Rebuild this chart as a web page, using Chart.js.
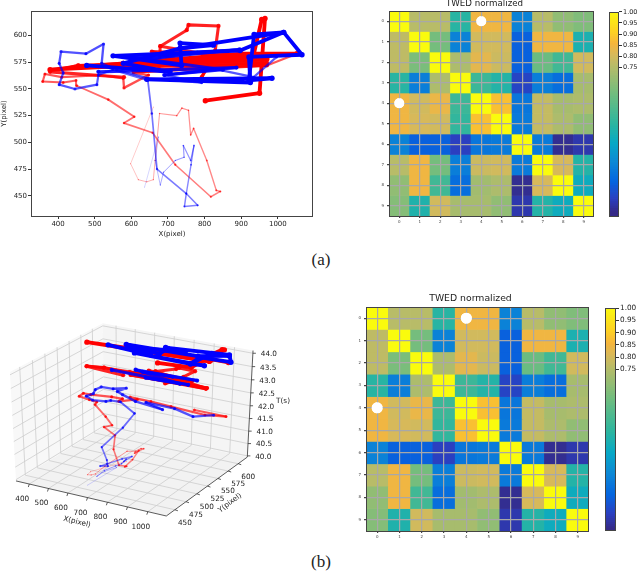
<!DOCTYPE html>
<html>
<head>
<meta charset="utf-8">
<title>TWED trajectories</title>
<script src="https://cdn.jsdelivr.net/npm/chart.js@4"></script>
<style>
	html, body { margin: 0; padding: 0; background: #fff; }
	body { position: relative; width: 640px; height: 571px; overflow: hidden; }
	canvas { position: absolute; filter: blur(0.35px); }
	.cap { position: absolute; font: 17px "Liberation Serif", serif; color: #222; transform: translate(-50%, -50%); }
</style>
</head>
<body>
<canvas id="traj2d"></canvas>
<canvas id="heatA"></canvas>
<canvas id="barA"></canvas>
<div class="cap" style="left:321px;top:260px">(a)</div>
<canvas id="traj3d"></canvas>
<canvas id="heatB"></canvas>
<canvas id="barB"></canvas>
<div class="cap" style="left:321px;top:562px">(b)</div>
<script>
// pen strokes, null = pen lifted
const redX = [660,598,619,642,660,665,677,724,738,756,762,770,806,832,843,817,720,658,580,608,537,451,449,414,358,364,410,515,578,580,647,606,706,806,970,1052,900,null,
	378,455,697,970,679,675,679,751,756,838,829,792,806,656,880,592,970,606,970,455,378,580,null,
	578,378,970,600,970,720,970,578,900,1052,934,956,965,950,802];
const redY = [533,480,465,463,465,483,527,525,532,530,507,513,483,455,454,449,479,509,518,524,540,553,558,556,557,564,561,563,560,551,563,565,568,569,572,583,580,null,
	567,572,576,573,590,568,590,605,610,609,586,561,569,585,582,570,575,566,572,572,566,561,null,
	574,568,578,572,580,575,582,574,583,583,582,615,616,546,539];
const redT = [40.1,40.2,40.3,40.35,40.4,40.5,40.6,40.7,40.75,40.8,40.9,40.95,41,41.1,41.15,41.2,41.3,41.4,41.5,41.55,41.6,41.8,41.85,41.9,41.95,42,42.05,42.1,42.15,42.15,42.2,42.2,42.15,42.1,42,41.95,42,null,
	43.05,43.05,43.05,43,43.05,43.05,43.05,43.1,43.1,43.1,43.1,43.05,43.05,43.1,43.05,43.1,43,43.05,43,43.05,43.05,43.05,null,
	43.95,43.95,43.96,43.96,43.97,43.97,43.98,43.98,43.99,43.99,44,44.02,44.02,44.03,44.05];

const blueX = [636,674,665,679,688,720,744,742,762,771,763,750,745,781,750,670,656,645,549,510,506,446,403,414,403,408,476,524,519,560,645,792,692,824,934,997,null,
	510,887,690,850,600,895,640,780,null,
	478,706,578,733,824,733,737,550,897,1016,935,921,984,642,925,921,1066,1016,733];
const blueY = [458,505,483,460,472,483,486,497,483,497,479,452,440,441,452,475,527,558,568,563,554,550,554,565,574,585,583,592,574,568,560,556,563,569,561,580,null,
	566,570,563,568,580,587,578,584,null,
	572,566,574,588,591,593,572,581,586,603,601,558,560,559,556,580,582,603,588];
const blueT = [40,40.2,40.3,40.4,40.5,40.6,40.7,40.75,40.85,40.9,41,41.1,41.15,41.2,41.25,41.35,41.5,41.7,41.9,41.95,42,42,42.05,42.05,42.1,42.1,42.15,42.15,42.2,42.2,42.15,42.1,42.15,42.05,42,41.95,null,
	43.1,43.05,43.1,43.05,43.1,43.05,43.1,43.05,null,
	43.95,43.95,43.96,43.96,43.97,43.97,43.97,43.98,43.98,43.99,43.99,44,44,44,44.02,44.02,44.03,44.03,44.05];

const xTicks = [400,500,600,700,800,900,1000];
const yTicks = [450,475,500,525,550,575,600];
const tTicks = [40,40.5,41,41.5,42,42.5,43,43.5,44];

const cellLabels = ['0','1','2','3','4','5','6','7','8','9'];
const row0 = [1,.75,.75,.48,.84,.84,.30,.75,.68,.65];
const row1 = [.76,1,.63,.30,.79,.79,.22,.84,.84,.45];
const row2 = [.76,.64,1,.73,.82,.78,.22,.61,.53,.79];
const row3 = [.48,.29,.73,1,.52,.47,.16,.29,.25,.72];
const row4 = [.84,.79,.83,.52,1,.87,.27,.77,.72,.73];
const row5 = [.84,.80,.79,.50,.87,1,.28,.77,.73,.68];
const row6 = [.30,.22,.22,.15,.27,.28,1,.28,.10,.13];
const row7 = [.75,.84,.63,.29,.78,.79,.28,1,.80,.47];
const row8 = [.68,.84,.53,.25,.71,.73,.10,.80,1,.42];
const row9 = [.66,.46,.79,.72,.72,.68,.13,.47,.42,1];
const twedRows = [row0,row1,row2,row3,row4,row5,row6,row7,row8,row9];
const whiteCols = ['4','0'];
const whiteRows = [0.5,4.5];
const cbarTicks = [0.75,0.8,0.85,0.9,0.95,1];

// colour table sampled from the colorbar
const cmapValues = [.09,.15,.228,.32,.40,.486,.62,.75,.80,.85,.90,1];
const cmapColors = ['#352a87','#2b3fc0','#0565e0','#0d8ad5','#07a8c6','#2bb5a0','#6fbd7f','#b8bc68','#d7b95a','#f6b53c','#fdd024','#fafb0d'];

const FONT = '"DejaVu Sans", sans-serif';

function hex(c) {
	return [1,3,5].map(i => parseInt(c.slice(i, i + 2), 16));
}
function cmap(v) {
	let i = 0;
	while (i < cmapValues.length - 2 && v > cmapValues[i + 1]) i++;
	const f = Math.max(0, Math.min(1, (v - cmapValues[i]) / (cmapValues[i + 1] - cmapValues[i])));
	const a = hex(cmapColors[i]), b = hex(cmapColors[i + 1]);
	return `rgb(${a.map((c, k) => Math.round(c + (b[k] - c) * f)).join(',')})`;
}

function place(id, left, top, w, h) {
	const c = document.getElementById(id);
	c.width = w;
	c.height = h;
	c.style.left = left + 'px';
	c.style.top = top + 'px';
	c.style.width = w + 'px';
	c.style.height = h + 'px';
	return c;
}

const framePlugin = {
	id: 'frame',
	afterDraw(chart) {
		const a = chart.chartArea, ctx = chart.ctx;
		ctx.save();
		ctx.strokeStyle = '#444';
		ctx.lineWidth = 1;
		ctx.strokeRect(Math.round(a.left) + 0.5, Math.round(a.top) + 0.5, Math.round(a.width) - 1, Math.round(a.height));
		ctx.restore();
	},
};

// line gets heavier and more solid as time goes on
function strokeWidth(t) { return 0.6 + (t - 40) * 0.8; }
function strokeAlpha(t) { return Math.min(1, 0.28 + (t - 40) * 0.19); }
function pathDataset(points, times, rgb, order) {
	const tAt = i => times[i] ?? 44;
	return {
		data: points,
		order: order,
		showLine: true,
		spanGaps: false,
		borderColor: `rgb(${rgb})`,
		backgroundColor: `rgb(${rgb})`,
		pointBorderWidth: 0,
		pointRadius: c => strokeWidth(tAt(c.dataIndex)) * 0.7,
		pointBackgroundColor: c => `rgba(${rgb},${strokeAlpha(tAt(c.dataIndex))})`,
		segment: {
			borderWidth: c => strokeWidth(tAt(c.p0DataIndex)),
			borderColor: c => `rgba(${rgb},${strokeAlpha(tAt(c.p0DataIndex))})`,
		},
		borderJoinStyle: 'round',
		borderCapStyle: 'round',
	};
}

function fixedAxis(ticks) {
	return {
		afterBuildTicks: s => { s.ticks = ticks.map(v => ({ value: v })); },
	};
}

// --- panel (a), plain X/Y view
new Chart(place('traj2d', 0, 0, 330, 245), {
	type: 'scatter',
	data: {
		datasets: [
			pathDataset(blueX.map((x, i) => ({ x: x, y: blueY[i] })), blueT, '0,0,255', 0),
			pathDataset(redX.map((x, i) => ({ x: x, y: redY[i] })), redT, '255,0,0', 1),
		],
	},
	options: {
		responsive: false,
		animation: false,
		events: [],
		devicePixelRatio: 1,
		layout: { autoPadding: false, padding: { top: 11, right: 17 } },
		plugins: { legend: { display: false }, tooltip: { enabled: false } },
		scales: {
			x: {
				min: 326, max: 1096,
				afterFit: s => { s.height = 29; },
				...fixedAxis(xTicks),
				ticks: { font: { family: FONT, size: 7 }, color: '#222', padding: 1, maxRotation: 0, autoSkip: false, callback: v => String(v) },
				grid: { drawOnChartArea: false, tickLength: 3, color: '#333' },
				border: { display: false },
				title: { display: true, text: 'X(pixel)', font: { family: FONT, size: 7 }, color: '#222', padding: { top: 0, bottom: 7 } },
			},
			y: {
				min: 431, max: 623,
				afterFit: s => { s.width = 31; },
				...fixedAxis(yTicks),
				ticks: { font: { family: FONT, size: 7 }, color: '#222', padding: 1, autoSkip: false, callback: v => String(v) },
				grid: { drawOnChartArea: false, tickLength: 3, color: '#333' },
				border: { display: false },
				title: { display: true, text: 'Y(pixel)', font: { family: FONT, size: 7 }, color: '#222', padding: 0 },
			},
		},
	},
	plugins: [framePlugin],
});

// --- heat maps
function heatMap(id, box, titleSize, titlePad, dotRadius) {
	const datasets = twedRows.map((row, r) => ({
		data: row.map(() => [r, r + 1]),
		backgroundColor: row.map(cmap),
		grouped: false,
		borderWidth: 0,
		barPercentage: 1,
		categoryPercentage: 1,
	}));
	datasets.push({
		type: 'scatter',
		order: -1,
		data: whiteCols.map((c, i) => ({ x: c, y: whiteRows[i] })),
		pointRadius: dotRadius,
		pointBackgroundColor: '#fff',
		pointBorderWidth: 0,
	});
	const dotsOnTop = {
		id: 'dotsOnTop',
		afterDraw(chart) {
			chart.getDatasetMeta(twedRows.length).controller.draw();
		},
	};
	const ml = box.ml, mb = box.mb;
	new Chart(place(id, box.left - ml, box.top - box.mt, box.w + ml + 2, box.h + box.mt + mb), {
		type: 'bar',
		data: { labels: cellLabels, datasets: datasets },
		options: {
			responsive: false,
			animation: false,
			events: [],
			devicePixelRatio: 1,
			layout: { autoPadding: false, padding: { right: 2 } },
			plugins: {
				legend: { display: false },
				tooltip: { enabled: false },
				title: {
					display: true,
					text: 'TWED normalized',
					color: '#222',
					font: { family: FONT, size: titleSize, weight: 'normal' },
					padding: { top: 0, bottom: titlePad },
				},
			},
			scales: {
				x: {
					offset: true,
					afterFit: s => { s.height = mb; },
					ticks: { font: { family: FONT, size: 4 }, color: '#444', padding: 2, maxRotation: 0, autoSkip: false },
					grid: { offset: false, z: 1, color: '#a8a8a8', lineWidth: 1.2, tickLength: 2, tickColor: '#444' },
					border: { display: false },
				},
				y: {
					min: 0, max: 10, reverse: true,
					afterFit: s => { s.width = ml; },
					afterBuildTicks: s => { s.ticks = cellLabels.map((c, i) => ({ value: i + 0.5 })); },
					ticks: { font: { family: FONT, size: 4 }, color: '#444', padding: 3, autoSkip: false, callback: v => cellLabels[Math.floor(v)] },
					grid: { z: 1, color: '#a8a8a8', lineWidth: 1.2, tickLength: 2, tickColor: '#444' },
					border: { display: false },
				},
			},
		},
		plugins: [dotsOnTop, framePlugin],
	});
}

function colorBar(id, box, fontSize, vMin) {
	const step = 0.008;
	const levels = [];
	for (let v = vMin; v < 1; v += step) levels.push(v);
	new Chart(place(id, box.left, box.top - 4, box.w + 28, box.h + 9), {
		type: 'bar',
		data: {
			labels: [''],
			datasets: levels.map(v => ({
				data: [[v, Math.min(1, v + step + 0.002)]],
				backgroundColor: cmap(v),
				grouped: false,
				borderWidth: 0,
				barPercentage: 1,
				categoryPercentage: 1,
			})),
		},
		options: {
			responsive: false,
			animation: false,
			events: [],
			devicePixelRatio: 1,
			layout: { autoPadding: false, padding: { top: 4, bottom: 5 } },
			plugins: { legend: { display: false }, tooltip: { enabled: false } },
			scales: {
				x: { display: false },
				y: {
					position: 'right',
					min: vMin, max: 1,
					afterFit: s => { s.width = 28; },
					...fixedAxis(cbarTicks),
					ticks: { font: { family: FONT, size: fontSize }, color: '#222', padding: 1, autoSkip: false, callback: v => v.toFixed(2) },
					grid: { drawOnChartArea: false, tickLength: 3, color: '#333' },
					border: { display: false },
				},
			},
		},
		plugins: [framePlugin],
	});
}

heatMap('heatA', { left: 389, top: 11, w: 205, h: 205, ml: 14, mt: 12, mb: 14 }, 8.7, 1.56, 5);
colorBar('barA', { left: 609, top: 11, w: 10, h: 205 }, 6.5, 0.08);
heatMap('heatB', { left: 366, top: 307, w: 223, h: 224, ml: 14, mt: 14, mb: 14 }, 9.3, 2.86, 5.5);
colorBar('barB', { left: 605, top: 307, w: 11, h: 224 }, 7.3, 0.089);

// --- panel (b), the same strokes with time as height
const X_LIM = [330, 1090], Y_LIM = [431, 623], T_LIM = [39.95, 44.1];
function project(x, y, t) {
	if (x === null) return { x: null, y: null };
	const a = (x - X_LIM[0]) / (X_LIM[1] - X_LIM[0]) - 0.5;
	const b = (y - Y_LIM[0]) / (Y_LIM[1] - Y_LIM[0]) - 0.5;
	const c = (t - T_LIM[0]) / (T_LIM[1] - T_LIM[0]) - 0.5;
	// camera at elevation 30, azimuth -60, distance 10
	const f = 10 / (10 - (0.433 * a - 0.75 * b + 0.5 * c));
	return {
		x: f * (0.866 * a + 0.5 * b),
		y: f * (-0.25 * a + 0.433 * b + 0.866 * c),
	};
}

const boxPlugin = {
	id: 'box3d',
	beforeDatasetsDraw(chart) {
		const ctx = chart.ctx, sx = chart.scales.x, sy = chart.scales.y;
		const pt = (x, y, t) => {
			const p = project(x, y, t);
			return [sx.getPixelForValue(p.x), sy.getPixelForValue(p.y)];
		};
		const [x0, x1] = X_LIM, [y0, y1] = Y_LIM, [t0, t1] = T_LIM;
		const poly = (pts, fill) => {
			ctx.beginPath();
			pts.forEach((p, i) => (i ? ctx.lineTo(p[0], p[1]) : ctx.moveTo(p[0], p[1])));
			ctx.closePath();
			ctx.fillStyle = fill;
			ctx.fill();
		};
		const seg = (a, b, color, w) => {
			ctx.beginPath();
			ctx.moveTo(a[0], a[1]);
			ctx.lineTo(b[0], b[1]);
			ctx.strokeStyle = color;
			ctx.lineWidth = w;
			ctx.stroke();
		};
		poly([pt(x0,y0,t0), pt(x0,y1,t0), pt(x0,y1,t1), pt(x0,y0,t1)], '#f8f8f8');
		poly([pt(x0,y1,t0), pt(x1,y1,t0), pt(x1,y1,t1), pt(x0,y1,t1)], '#f5f5f5');
		poly([pt(x0,y0,t0), pt(x1,y0,t0), pt(x1,y1,t0), pt(x0,y1,t0)], '#f2f2f2');

		const gridColor = '#cdcdcd';
		xTicks.forEach(v => {
			seg(pt(v,y0,t0), pt(v,y1,t0), gridColor, 0.8);
			seg(pt(v,y1,t0), pt(v,y1,t1), gridColor, 0.8);
		});
		yTicks.forEach(v => {
			seg(pt(x1,v,t0), pt(x0,v,t0), gridColor, 0.8);
			seg(pt(x0,v,t0), pt(x0,v,t1), gridColor, 0.8);
		});
		tTicks.forEach(v => {
			seg(pt(x0,y0,v), pt(x0,y1,v), gridColor, 0.8);
			seg(pt(x0,y1,v), pt(x1,y1,v), gridColor, 0.8);
		});

		seg(pt(x0,y0,t0), pt(x1,y0,t0), '#333', 0.8);
		seg(pt(x1,y0,t0), pt(x1,y1,t0), '#333', 0.8);
		seg(pt(x1,y1,t0), pt(x1,y1,t1), '#333', 0.8);

		ctx.font = `7.3px ${FONT}`;
		ctx.fillStyle = '#222';
		ctx.textAlign = 'center';
		ctx.textBaseline = 'middle';
		xTicks.forEach(v => {
			const p = pt(v, y0, t0);
			seg(p, [p[0] - 1, p[1] + 3], '#333', 0.8);
			ctx.fillText(String(v), p[0] - 7, p[1] + 15);
		});
		yTicks.forEach(v => {
			const p = pt(x1, v, t0);
			seg(p, [p[0] + 3, p[1] + 1], '#333', 0.8);
			ctx.fillText(String(v), p[0] + 10, p[1] + 13);
		});
		tTicks.forEach(v => {
			const p = pt(x1, y1, v);
			seg(p, [p[0] + 3, p[1]], '#333', 0.8);
			ctx.fillText(v.toFixed(1), p[0] + 16, p[1] + 1);
		});

		const label = (text, px, py, deg) => {
			ctx.save();
			ctx.translate(px, py);
			ctx.rotate(deg * Math.PI / 180);
			ctx.fillText(text, 0, 0);
			ctx.restore();
		};
		label('X(pixel)', 77, 222, 14);
		label('Y(pixel)', 230, 203, -37);
		label('T(s)', 283, 101, 0);
	},
};

new Chart(place('traj3d', 0, 300, 300, 240), {
	type: 'scatter',
	data: {
		datasets: [
			pathDataset(blueX.map((x, i) => project(x, blueY[i], blueT[i])), blueT, '0,0,255', 0),
			pathDataset(redX.map((x, i) => project(x, redY[i], redT[i])), redT, '255,0,0', 1),
		],
	},
	options: {
		responsive: false,
		animation: false,
		events: [],
		devicePixelRatio: 1,
		layout: { autoPadding: false, padding: 0 },
		plugins: { legend: { display: false }, tooltip: { enabled: false } },
		scales: {
			x: { display: false, min: -0.769, max: 0.960 },
			y: { display: false, min: -0.995, max: 0.936 },
		},
	},
	plugins: [boxPlugin],
});
</script>
</body>
</html>
